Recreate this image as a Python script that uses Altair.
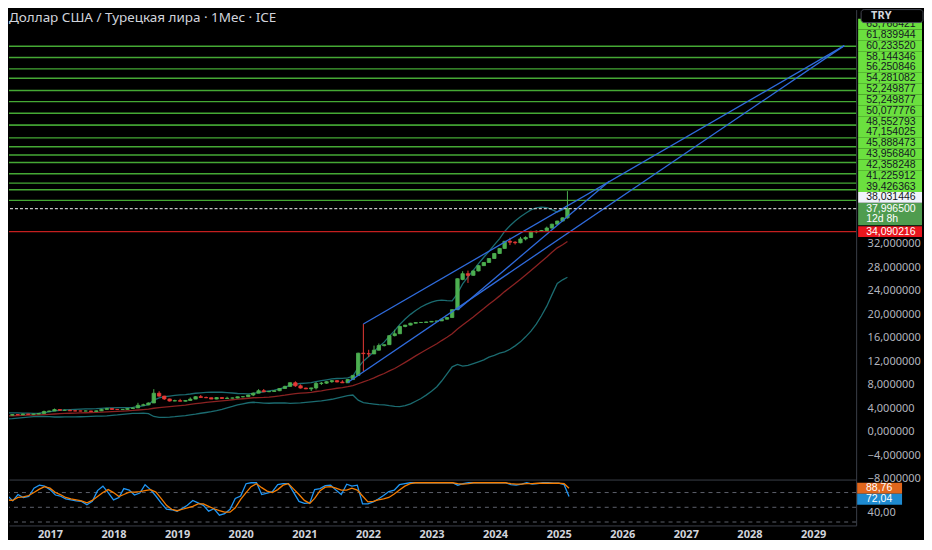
import altair as alt
import pandas as pd

# ---------------- data ----------------
TITLE = "Доллар США / Турецкая лира · 1Мес · ICE"
CURRENCY = "TRY"
COUNTDOWN = "12d 8h"

WARMUP_FIRST_MONTH = "2014-09-01"
FIRST_MONTH = "2016-04-01"

# monthly closes before the visible range (needed for the 20-month bands)
WARMUP_CLOSE = [2.28, 2.23, 2.22, 2.33,
                2.44, 2.50, 2.60, 2.67, 2.66, 2.69, 2.77, 2.91, 3.03, 2.92, 2.91, 2.92,
                2.96, 2.96, 2.83]

OPEN = [
    2.83, 2.81, 2.92, 2.88, 3.00, 2.96, 3.00, 3.10, 3.43,
    3.52, 3.77, 3.64, 3.64, 3.55, 3.53, 3.52, 3.52, 3.45, 3.55, 3.80, 3.94,
    3.80, 3.77, 3.80, 3.95, 4.05, 4.50, 4.57, 4.89, 6.55, 6.06, 5.58, 5.22,
    5.29, 5.19, 5.32, 5.55, 5.97, 5.83, 5.78, 5.56, 5.81, 5.65, 5.72, 5.74,
    5.95, 5.97, 6.25, 6.57, 6.98, 6.81, 6.85, 6.98, 7.36, 7.72, 8.34, 7.82,
    7.43, 7.30, 7.46, 8.22, 8.27, 8.52, 8.70, 8.47, 8.33, 8.88, 9.59, 13.38,
    13.30, 13.25, 13.89, 14.67, 14.83, 16.37, 16.69, 17.93, 18.16, 18.48, 18.60, 18.62,
    18.70, 18.80, 18.88, 19.17, 19.45, 20.80, 25.95, 26.93, 26.64, 27.40, 28.30, 28.84,
    29.51, 30.37, 31.23, 32.45, 32.30, 32.20, 32.85, 33.10, 34.05, 34.15, 34.28, 34.70,
    35.36, 35.90, 36.45,
]
HIGH = [
    2.90, 2.98, 2.97, 3.08, 3.02, 3.03, 3.12, 3.59, 3.59,
    3.94, 3.78, 3.77, 3.75, 3.64, 3.56, 3.59, 3.56, 3.60, 3.88, 3.99, 3.95,
    3.83, 3.83, 3.99, 4.15, 4.92, 4.77, 4.98, 7.24, 6.89, 6.12, 5.62, 5.45,
    5.60, 5.36, 5.84, 6.05, 6.25, 5.98, 5.80, 5.87, 5.84, 5.95, 5.79, 5.97,
    6.03, 6.28, 6.67, 7.24, 7.27, 6.90, 7.00, 7.40, 7.83, 8.37, 8.58, 8.05,
    7.50, 7.48, 8.47, 8.47, 8.58, 8.80, 8.80, 8.77, 8.92, 9.60, 13.45, 18.36,
    13.96, 14.67, 15.03, 14.85, 16.42, 17.38, 18.09, 18.20, 18.55, 18.66, 18.64, 18.75,
    18.85, 18.90, 19.20, 19.48, 20.84, 26.10, 27.35, 27.45, 27.45, 28.38, 28.90, 29.54,
    30.46, 31.30, 32.48, 33.05, 32.45, 33.20, 33.30, 34.25, 34.30, 34.38, 34.95, 35.45,
    35.95, 36.50, 41.00,
]
LOW = [
    2.78, 2.80, 2.87, 2.86, 2.91, 2.92, 2.98, 3.09, 3.38,
    3.51, 3.57, 3.58, 3.54, 3.49, 3.49, 3.50, 3.44, 3.38, 3.55, 3.80, 3.75,
    3.72, 3.73, 3.78, 3.92, 4.04, 4.46, 4.52, 4.89, 5.95, 5.42, 5.15, 5.19,
    5.17, 5.16, 5.31, 5.55, 5.82, 5.72, 5.55, 5.53, 5.60, 5.65, 5.67, 5.69,
    5.84, 5.96, 6.06, 6.57, 6.74, 6.73, 6.83, 6.91, 7.34, 7.71, 7.64, 7.35,
    7.25, 6.93, 7.20, 7.95, 8.17, 8.33, 8.42, 8.30, 8.31, 8.87, 9.57, 10.25,
    12.75, 13.25, 13.85, 14.53, 14.81, 16.24, 16.66, 17.80, 18.12, 18.45, 18.55, 18.58,
    18.68, 18.78, 18.87, 19.15, 19.43, 20.80, 25.80, 25.35, 26.60, 27.32, 28.28, 28.82,
    29.50, 30.30, 31.20, 31.80, 31.90, 32.10, 32.60, 33.00, 33.80, 34.05, 34.25, 34.60,
    35.30, 35.85, 36.30,
]
CLOSE = [
    2.81, 2.92, 2.88, 3.00, 2.96, 3.00, 3.10, 3.43, 3.52,
    3.77, 3.64, 3.64, 3.55, 3.53, 3.52, 3.52, 3.45, 3.55, 3.80, 3.94, 3.80,
    3.77, 3.80, 3.95, 4.05, 4.50, 4.57, 4.89, 6.55, 6.06, 5.58, 5.22, 5.29,
    5.19, 5.32, 5.55, 5.97, 5.83, 5.78, 5.56, 5.81, 5.65, 5.72, 5.74, 5.95,
    5.97, 6.25, 6.57, 6.98, 6.81, 6.85, 6.98, 7.36, 7.72, 8.34, 7.82, 7.43,
    7.30, 7.46, 8.22, 8.27, 8.52, 8.70, 8.47, 8.33, 8.88, 9.59, 13.38, 13.30,
    13.25, 13.89, 14.67, 14.83, 16.37, 16.69, 17.93, 18.16, 18.48, 18.60, 18.62, 18.70,
    18.80, 18.88, 19.17, 19.45, 20.80, 26.07, 26.93, 26.64, 27.40, 28.30, 28.84, 29.51,
    30.37, 31.23, 32.45, 32.30, 32.20, 32.85, 33.10, 34.05, 34.15, 34.28, 34.70, 35.36,
    35.90, 36.45, 37.9965,
]

# Stochastic RSI, %K (blue) and %D (orange), one value per month
STOCH_K = [
    55, 74, 63, 76, 70, 72, 89, 95, 93,
    86, 75, 73, 67, 65, 63, 62, 55, 62, 84, 93, 80,
    65, 70, 88, 85, 75, 79, 96, 86, 73, 59, 46, 45,
    42, 48, 54, 64, 59, 54, 42, 47, 34, 37, 46, 68,
    73, 98, 100, 100, 76, 79, 82, 96, 98, 98, 80, 62,
    58, 59, 86, 88, 94, 95, 85, 76, 97, 93, 95, 57,
    57, 61, 67, 74, 82, 85, 96, 98, 100, 100, 100, 100,
    100, 100, 100, 100, 100, 95, 98, 100, 100, 100, 100, 100,
    100, 100, 100, 96, 95, 97, 100, 97, 98, 100, 100, 99,
    99, 96, 72.04,
]
STOCH_D = [
    68, 65, 64, 70, 71, 74, 80, 87, 92,
    89, 80, 76, 70, 67, 65, 63, 59, 64, 72, 80, 86,
    80, 72, 76, 81, 81, 82, 84, 86, 81, 68, 54, 46,
    43, 46, 49, 52, 57, 57, 52, 47, 43, 40, 40, 49,
    66, 80, 92, 98, 90, 83, 80, 86, 95, 98, 87, 76,
    64, 58, 68, 84, 91, 92, 89, 85, 85, 89, 85, 73,
    61, 62, 65, 67, 70, 77, 85, 93, 98, 100, 100, 100,
    100, 100, 100, 100, 100, 98, 97, 98, 100, 100, 100, 100,
    100, 100, 100, 98, 97, 97, 98, 98, 99, 99, 99, 99,
    99, 98, 88.76,
]

# horizontal levels drawn on the chart
LEVELS = [65.70, 63.768421, 61.839944, 60.233520, 58.144346, 56.250846, 54.281082,
          52.249877, 52.249877, 50.077776, 48.552793, 47.154025, 45.888473,
          43.956840, 42.358248, 41.225912, 39.426363]
LEVEL_DASHED = 38.031446
LEVEL_RED = 34.090216
LAST_PRICE = 37.9965

# trend lines: id, date, value
TREND_ID = ["a", "a", "c", "c", "d", "d"]
TREND_DATE = ["2021-12-01", "2029-07-27", "2021-09-01", "2029-07-27", "2023-06-01", "2025-10-30"]
TREND_VALUE = [18.36, 65.80, 8.38, 65.80, 20.75, 42.70]

PRICE_TICKS = [-8, -4, 0, 4, 8, 12, 16, 20, 24, 28, 32]
YEAR_TICKS = list(range(2017, 2030))
STOCH_BANDS = [80, 50, 20]
STOCH_TICKS = [40]

# ---------------- styling / geometry ----------------
FONT = "Noto Sans"
LFONT = "Liberation Sans"
BG = "#000000"
SEP = "#3a3e48"
AXIS_TXT = "#b2b5be"
UP = "#4caf50"
DOWN = "#e53935"
GREEN_LINE = "#45a834"
GREEN_BOX = "#6be03f"
CUR_BOX = "#4f9c4f"
WHITE_BOX = "#f0f3fa"
RED_LINE = "#c41f1f"
RED_BOX = "#e8161e"
TEAL = "#1b6b70"
BASIS = "#8a2222"
TREND = "#2f6bdc"
K_COLOR = "#2196f3"
D_COLOR = "#f57c00"
K_BOX = "#1e8ad0"
D_BOX = "#e0661c"
DASH = "#5d606b"
DARK_TXT = "#131722"

W = 849
HM = 471
HS = 46
Y_DOMAIN = [-8.16, 71.94]
S_DOMAIN = [13, 106.5]
X_DOMAIN = [alt.DateTime(year=2016, month=5, date=10, hours=12),
            alt.DateTime(year=2029, month=9, date=5)]

xscale = alt.Scale(domain=X_DOMAIN)
yscale = alt.Scale(domain=Y_DOMAIN, nice=False, zero=False)
sscale = alt.Scale(domain=S_DOMAIN, nice=False, zero=False)

# ---------------- tables ----------------
def iso(d):
    return d.strftime("%Y-%m-%dT00:00:00")

months = pd.date_range(FIRST_MONTH, periods=len(CLOSE), freq="MS")
warm = pd.date_range(WARMUP_FIRST_MONTH, periods=len(WARMUP_CLOSE), freq="MS")
dates = [iso(d) for d in months]

candles = pd.DataFrame({"date": dates, "open": OPEN, "high": HIGH, "low": LOW, "close": CLOSE})
closes = pd.DataFrame({"date": [iso(d) for d in warm] + dates, "close": WARMUP_CLOSE + CLOSE})
stoch = pd.DataFrame({"date": dates, "k": STOCH_K, "d": STOCH_D})
levels = pd.DataFrame({"v": LEVELS})
trend = pd.DataFrame({"id": TREND_ID, "date": [d + "T00:00:00" for d in TREND_DATE], "value": TREND_VALUE})


def fmt_price(v):
    return f"{v:.6f}".replace(".", ",")


# price-scale labels, stacked so that they do not overlap
ppu = HM / (Y_DOMAIN[1] - Y_DOMAIN[0])
box = 10.85 / ppu
rects, texts = [], []
cur_hi = LAST_PRICE + 6 / ppu
rects.append(dict(lo=LAST_PRICE - 16.5 / ppu, hi=cur_hi, fill=CUR_BOX))
texts.append(dict(c=LAST_PRICE, text=fmt_price(LAST_PRICE), col="#ffffff"))
texts.append(dict(c=LAST_PRICE - 10.5 / ppu, text=COUNTDOWN, col="#ffffff"))
entries = sorted([(LEVEL_DASHED, WHITE_BOX)] + [(v, GREEN_BOX) for v in LEVELS])
prev = cur_hi
for v, fill in entries:
    c = max(v, prev + box / 2)
    if c + box / 2 > Y_DOMAIN[1]:
        break
    rects.append(dict(lo=c - box / 2, hi=c + box / 2, fill=fill))
    texts.append(dict(c=c, text=fmt_price(v), col=DARK_TXT))
    prev = c + box / 2
rects.append(dict(lo=LEVEL_RED - box / 2, hi=LEVEL_RED + box / 2, fill=RED_BOX))
texts.append(dict(c=LEVEL_RED, text=fmt_price(LEVEL_RED), col="#ffffff"))
rect_df = pd.DataFrame(rects)
text_df = pd.DataFrame(texts)

# stochastic value labels
ppu_s = HS / (S_DOMAIN[1] - S_DOMAIN[0])
sbox = 11 / ppu_s
d_last, k_last = STOCH_D[-1], STOCH_K[-1]
k_c = min(k_last, d_last - sbox)
s_rect_df = pd.DataFrame([dict(lo=d_last - sbox / 2, hi=d_last + sbox / 2, fill=D_BOX),
                          dict(lo=k_c - sbox / 2, hi=k_c + sbox / 2, fill=K_BOX)])
s_text_df = pd.DataFrame([dict(c=d_last, text=f"{d_last:.2f}".replace(".", ",")),
                          dict(c=k_c, text=f"{k_last:.2f}".replace(".", ","))])

# ---------------- axes (same object in every layer so they merge) ----------------
y_axis_main = alt.Axis(orient="right", values=PRICE_TICKS,
                       labelExpr="replace(format(datum.value, '.6f'), '.', ',')",
                       ticks=False, grid=False, domain=True, domainColor=SEP,
                       labelColor=AXIS_TXT, labelFont=FONT, labelFontSize=11,
                       labelPadding=11, labelAlign="left", labelBaseline="middle",
                       labelOverlap=False, labelFlush=False, title=None)
x_axis_main = alt.Axis(labels=False, ticks=False, grid=False, domain=True,
                       domainColor=SEP, title=None, orient="bottom")
x_axis_time = alt.Axis(values=[alt.DateTime(year=y, month=1, date=1) for y in YEAR_TICKS],
                       format="%Y", labelColor="#d1d4dc", labelFont=FONT,
                       labelFontSize=11, labelFontWeight="bold", labelPadding=3,
                       ticks=False, grid=False, domain=True, domainColor=SEP,
                       title=None, labelFlush=False, labelOverlap=False, orient="bottom")
y_axis_s = alt.Axis(orient="right", values=STOCH_TICKS,
                    labelExpr="replace(format(datum.value, '.2f'), '.', ',')",
                    ticks=False, grid=False, domain=True, domainColor=SEP,
                    labelColor=AXIS_TXT, labelFont=FONT, labelFontSize=11,
                    labelPadding=11, labelAlign="left", labelBaseline="middle",
                    labelOverlap=False, labelFlush=False, title=None)


def XM(f):
    return alt.X(f, scale=xscale, axis=x_axis_main)


def YM(f):
    return alt.Y(f, scale=yscale, axis=y_axis_main)


def XS(f):
    return alt.X(f, scale=xscale, axis=x_axis_time)


def YS(f):
    return alt.Y(f, scale=sscale, axis=y_axis_s)


# ---------------- main pane ----------------
lvl = alt.Chart(levels).mark_rule(color=GREEN_LINE, strokeWidth=1.4).encode(y=YM("v:Q"))
dashed = alt.Chart(pd.DataFrame({"v": [LEVEL_DASHED]})).mark_rule(
    color="#c8c8c8", strokeDash=[3, 2], strokeWidth=1.2).encode(y=YM("v:Q"))
red = alt.Chart(pd.DataFrame({"v": [LEVEL_RED]})).mark_rule(
    color=RED_LINE, strokeWidth=1.4).encode(y=YM("v:Q"))

bb = alt.Chart(closes).transform_window(
    sma="mean(close)", sd="stdevp(close)", n="count()", frame=[-19, 0],
    sort=[alt.SortField("date", order="ascending")]
).transform_filter("datum.n >= 20").transform_calculate(
    upper="datum.sma + 2 * datum.sd", lower="datum.sma - 2 * datum.sd")
bb_up = bb.mark_line(color=TEAL, strokeWidth=1.3, clip=True).encode(x=XM("date:T"), y=YM("upper:Q"))
bb_lo = bb.mark_line(color=TEAL, strokeWidth=1.3, clip=True).encode(x=XM("date:T"), y=YM("lower:Q"))
bb_mid = bb.mark_line(color=BASIS, strokeWidth=1.3, clip=True).encode(x=XM("date:T"), y=YM("sma:Q"))

updown = alt.condition(alt.datum.close >= alt.datum.open, alt.value(UP), alt.value(DOWN))
wick = alt.Chart(candles).mark_rule(strokeWidth=1, clip=True).encode(
    x=XM("date:T"), y=YM("low:Q"), y2="high:Q", color=updown)
body = alt.Chart(candles).mark_bar(size=3.4, strokeWidth=0.8, clip=True).encode(
    x=XM("date:T"), y=YM("open:Q"), y2="close:Q", color=updown, stroke=updown)

tr = alt.Chart(trend).mark_line(color=TREND, strokeWidth=1.3, clip=True).encode(
    x=XM("date:T"), y=YM("value:Q"), detail="id:N")

lab_rect = alt.Chart(rect_df).mark_rect().encode(
    x=alt.value(W + 2), x2=alt.value(W + 66), y=YM("lo:Q"), y2="hi:Q",
    color=alt.Color("fill:N", scale=None))
lab_text = alt.Chart(text_df).mark_text(align="left", baseline="middle", font=LFONT,
                                        fontSize=10.5).encode(
    x=alt.value(W + 10), y=YM("c:Q"), text="text:N", color=alt.Color("col:N", scale=None))

hdr = pd.DataFrame({"t": [CURRENCY]})
hdr_rect = alt.Chart(hdr).mark_rect(fill=BG, stroke="#434651", strokeWidth=1,
                                    cornerRadius=3).encode(
    x=alt.value(W + 5), x2=alt.value(W + 67), y=alt.value(0), y2=alt.value(13))
hdr_text = alt.Chart(hdr).mark_text(align="left", baseline="middle", font=FONT,
                                    fontSize=11, fontWeight="bold",
                                    color="#d1d4dc").encode(
    x=alt.value(W + 15), y=alt.value(6.5), text="t:N")

ttl = alt.Chart(pd.DataFrame({"t": [TITLE]})).mark_text(
    align="left", baseline="middle", font=FONT, fontSize=13.5, color="#d1d4dc").encode(
    x=alt.value(0), y=alt.value(8), text="t:N")

main = alt.layer(lvl, bb_up, bb_lo, bb_mid, wick, body, tr, red, dashed,
                 lab_rect, lab_text, hdr_rect, hdr_text, ttl).properties(width=W, height=HM)

# ---------------- stochastic RSI pane ----------------
sb = alt.Chart(pd.DataFrame({"v": STOCH_BANDS})).mark_rule(
    color=DASH, strokeDash=[4, 4], strokeWidth=1).encode(y=YS("v:Q"))
kline = alt.Chart(stoch).mark_line(color=K_COLOR, strokeWidth=1.3, clip=True).encode(
    x=XS("date:T"), y=YS("k:Q"))
dline = alt.Chart(stoch).mark_line(color=D_COLOR, strokeWidth=1.3, clip=True).encode(
    x=XS("date:T"), y=YS("d:Q"))
s_rect = alt.Chart(s_rect_df).mark_rect().encode(
    x=alt.value(W + 1), x2=alt.value(W + 46), y=YS("lo:Q"), y2="hi:Q",
    color=alt.Color("fill:N", scale=None))
s_text = alt.Chart(s_text_df).mark_text(align="center", baseline="middle", font=LFONT,
                                        fontSize=10.5, color="#ffffff").encode(
    x=alt.value(W + 23), y=YS("c:Q"), text="text:N")

lower = alt.layer(sb, kline, dline, s_rect, s_text).properties(width=W, height=HS)

chart = alt.vconcat(main, lower, spacing=0, bounds="flush", padding=0,
                    background=BG).configure_view(stroke=None)

chart.save("out.html", embed_options={"renderer": "svg", "actions": False})
